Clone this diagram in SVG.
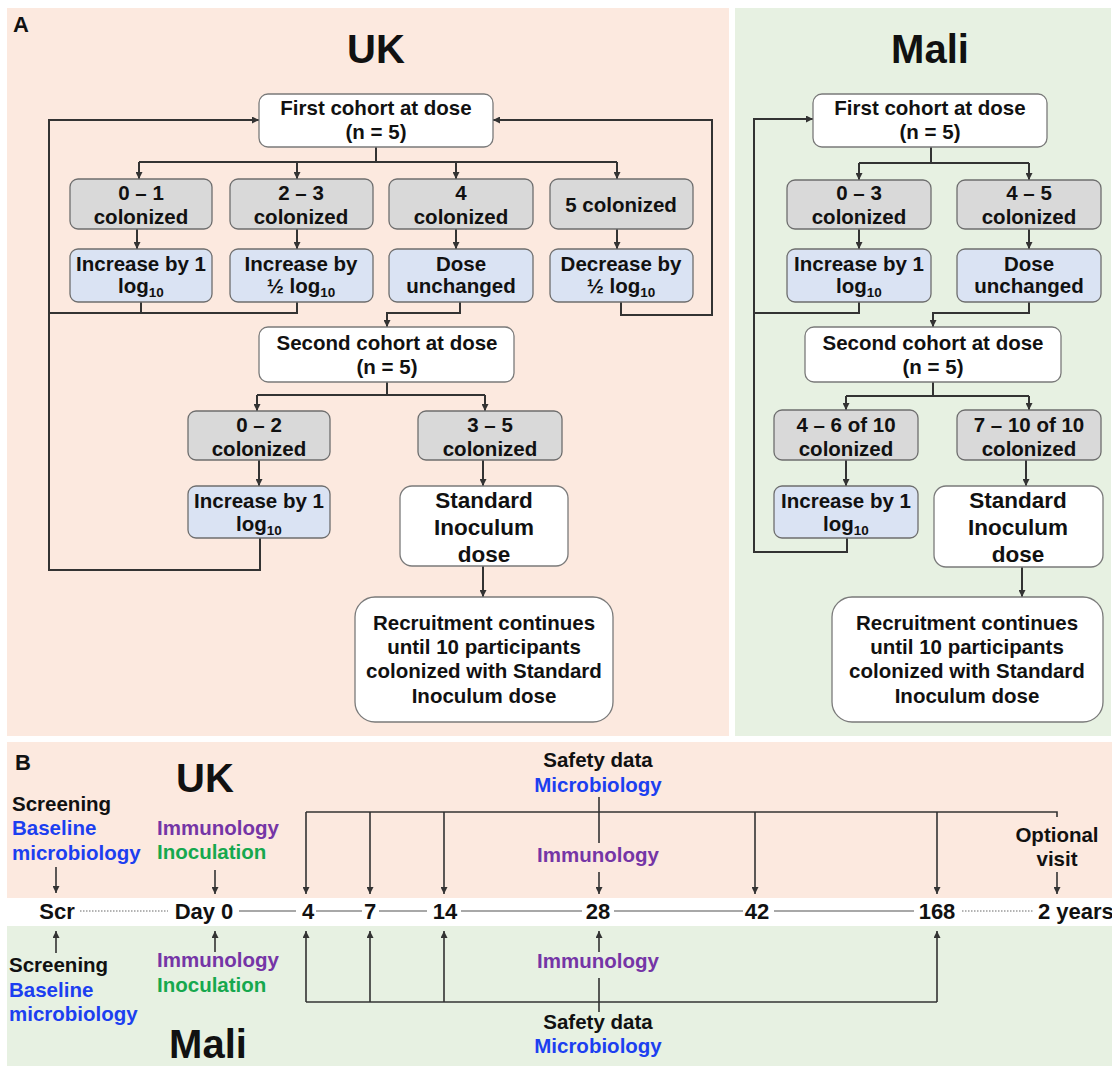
<svg xmlns="http://www.w3.org/2000/svg" width="1112" height="1066" viewBox="0 0 1112 1066">
<style>
.t{font-family:"Liberation Sans",Arial,sans-serif;font-weight:bold;font-size:20.5px;fill:#111;text-anchor:middle}
.s{text-anchor:start}
.title{font-size:40px}
.lab{font-size:22px;text-anchor:start}
.num{font-size:22px}
.std{font-size:22.5px}
.sub{font-size:13.5px}
.blue{fill:#1c3ff0}
.pur{fill:#7535a6}
.grn{fill:#16a84e}
.bw{fill:#fff;stroke:#7a7a7a;stroke-width:1.3}
.bg{fill:#d9d9d9;stroke:#6e6e6e;stroke-width:1.3}
.bb{fill:#dae3f3;stroke:#6e6e6e;stroke-width:1.3}
.ln{fill:none;stroke:#333;stroke-width:2}
.lb{fill:none;stroke:#333;stroke-width:1.6}
.tl{fill:none;stroke:#8c8c8c;stroke-width:1.6}
.dot{fill:none;stroke:#9a9a9a;stroke-width:1.4;stroke-dasharray:1.5 1.5}
</style>
<defs>
<marker id="ah" viewBox="0 0 8 8" refX="8" refY="4" markerWidth="7" markerHeight="7" markerUnits="userSpaceOnUse" orient="auto">
<path d="M0,0 L8,4 L0,8 z" fill="#333"/>
</marker>
</defs>
<rect width="1112" height="1066" fill="#fff"/>
<!-- backgrounds -->
<rect x="7" y="8" width="722" height="728" fill="#fce9df"/>
<rect x="735" y="8" width="376" height="728" fill="#e7f1e2"/>
<rect x="7" y="742" width="1105" height="156" fill="#fce9df"/>
<rect x="7" y="926" width="1105" height="140" fill="#e7f1e2"/>
<text class="t lab" x="13" y="32">A</text>
<text class="t title" x="376" y="63">UK</text>
<text class="t title" x="930" y="63">Mali</text>
<text class="t lab" x="15" y="770">B</text>
<text class="t title" x="205" y="792">UK</text>
<text class="t title" x="208" y="1058">Mali</text>

<!-- connectors -->
<g id="connectors">
<!-- UK panel A -->
<path class="ln" d="M376,147 V162 M139,162 H617"/>
<path class="ln" marker-end="url(#ah)" d="M139,162 V179"/>
<path class="ln" marker-end="url(#ah)" d="M297,162 V179"/>
<path class="ln" marker-end="url(#ah)" d="M456,162 V179"/>
<path class="ln" marker-end="url(#ah)" d="M617,162 V179"/>
<path class="ln" marker-end="url(#ah)" d="M137,229 V249"/>
<path class="ln" marker-end="url(#ah)" d="M297,229 V249"/>
<path class="ln" marker-end="url(#ah)" d="M456,229 V249"/>
<path class="ln" marker-end="url(#ah)" d="M617,229 V249"/>
<path class="ln" d="M141,302 V313 M297,302 V313 H49"/>
<path class="ln" marker-end="url(#ah)" d="M260,538 V570 H49 V120 H259"/>
<path class="ln" marker-end="url(#ah)" d="M621,302 V315 H712 V120 H493"/>
<path class="ln" marker-end="url(#ah)" d="M460,302 V313 H387 V327"/>
<path class="ln" d="M387,382 V395 M257,395 H485"/>
<path class="ln" marker-end="url(#ah)" d="M257,395 V411"/>
<path class="ln" marker-end="url(#ah)" d="M485,395 V411"/>
<path class="ln" marker-end="url(#ah)" d="M259,460 V486"/>
<path class="ln" marker-end="url(#ah)" d="M483,460 V486"/>
<path class="ln" marker-end="url(#ah)" d="M483,566 V597"/>
<!-- Mali panel A -->
<path class="ln" d="M931,147 V163 M859,163 H1029"/>
<path class="ln" marker-end="url(#ah)" d="M859,163 V180"/>
<path class="ln" marker-end="url(#ah)" d="M1029,163 V180"/>
<path class="ln" marker-end="url(#ah)" d="M859,229 V249"/>
<path class="ln" marker-end="url(#ah)" d="M1029,229 V249"/>
<path class="ln" d="M859,302 V313 H754"/>
<path class="ln" marker-end="url(#ah)" d="M847,538 V552 H754 V119 H813"/>
<path class="ln" marker-end="url(#ah)" d="M1029,302 V313 H933 V327"/>
<path class="ln" d="M933,382 V396 M846,396 H1029"/>
<path class="ln" marker-end="url(#ah)" d="M846,396 V410"/>
<path class="ln" marker-end="url(#ah)" d="M1029,396 V410"/>
<path class="ln" marker-end="url(#ah)" d="M846,460 V486"/>
<path class="ln" marker-end="url(#ah)" d="M1026,460 V486"/>
<path class="ln" marker-end="url(#ah)" d="M1022,567 V597"/>
<!-- Panel B timeline -->
<path class="dot" d="M80,911 H168 M962,911 H1034"/>
<path class="tl" d="M239,911 H296 M316,911 H362 M379,911 H427 M461,911 H582 M614,911 H743 M774,911 H914"/>
<!-- UK bracket -->
<path class="lb" d="M306,812 H1057 V817"/>
<path class="lb" marker-end="url(#ah)" d="M306,812 V894"/>
<path class="lb" marker-end="url(#ah)" d="M370,812 V894"/>
<path class="lb" marker-end="url(#ah)" d="M444,812 V894"/>
<path class="lb" marker-end="url(#ah)" d="M755,812 V894"/>
<path class="lb" marker-end="url(#ah)" d="M937,812 V894"/>
<path class="lb" d="M599,797 V843"/>
<path class="lb" marker-end="url(#ah)" d="M599,872 V894"/>
<path class="lb" marker-end="url(#ah)" d="M56,867 V893"/>
<path class="lb" marker-end="url(#ah)" d="M215,870 V894"/>
<path class="lb" marker-end="url(#ah)" d="M1057,872 V894"/>
<!-- Mali bracket -->
<path class="lb" d="M306,1002 H937"/>
<path class="lb" marker-end="url(#ah)" d="M306,1002 V931"/>
<path class="lb" marker-end="url(#ah)" d="M370,1002 V931"/>
<path class="lb" marker-end="url(#ah)" d="M444,1002 V931"/>
<path class="lb" marker-end="url(#ah)" d="M937,1002 V931"/>
<path class="lb" d="M599,978 V1012"/>
<path class="lb" marker-end="url(#ah)" d="M599,952 V931"/>
<path class="lb" marker-end="url(#ah)" d="M56,953 V931"/>
<path class="lb" marker-end="url(#ah)" d="M215,952 V931"/>
</g>

<!-- UK nodes -->
<g id="uk-first"><rect class="bw" x="259" y="94" width="234" height="53" rx="9"/>
<text class="t" x="376" y="115">First cohort at dose</text><text class="t" x="376" y="139">(n = 5)</text></g>
<g id="uk-g01"><rect class="bg" x="70" y="179" width="142" height="50" rx="8"/>
<text class="t" x="141" y="200">0 – 1</text><text class="t" x="141" y="224">colonized</text></g>
<g id="uk-g23"><rect class="bg" x="230" y="179" width="143" height="50" rx="8"/>
<text class="t" x="301" y="200">2 – 3</text><text class="t" x="301" y="224">colonized</text></g>
<g id="uk-g4"><rect class="bg" x="389" y="179" width="144" height="50" rx="8"/>
<text class="t" x="461" y="200">4</text><text class="t" x="461" y="224">colonized</text></g>
<g id="uk-g5"><rect class="bg" x="550" y="179" width="143" height="50" rx="8"/>
<text class="t" x="621" y="212">5 colonized</text></g>
<g id="uk-b1"><rect class="bb" x="70" y="249" width="142" height="53" rx="8"/>
<text class="t" x="141" y="271">Increase by 1</text><text class="t" x="141" y="293">log<tspan class="sub" dy="4">10</tspan></text></g>
<g id="uk-b2"><rect class="bb" x="230" y="249" width="143" height="53" rx="8"/>
<text class="t" x="301" y="271">Increase by</text><text class="t" x="301" y="293">½ log<tspan class="sub" dy="4">10</tspan></text></g>
<g id="uk-b3"><rect class="bb" x="389" y="249" width="144" height="53" rx="8"/>
<text class="t" x="461" y="271">Dose</text><text class="t" x="461" y="293">unchanged</text></g>
<g id="uk-b4"><rect class="bb" x="550" y="249" width="143" height="53" rx="8"/>
<text class="t" x="621" y="271">Decrease by</text><text class="t" x="621" y="293">½ log<tspan class="sub" dy="4">10</tspan></text></g>
<g id="uk-second"><rect class="bw" x="259" y="327" width="255" height="55" rx="9"/>
<text class="t" x="387" y="350">Second cohort at dose</text><text class="t" x="387" y="374">(n = 5)</text></g>
<g id="uk-g02"><rect class="bg" x="188" y="411" width="142" height="49" rx="8"/>
<text class="t" x="259" y="432">0 – 2</text><text class="t" x="259" y="456">colonized</text></g>
<g id="uk-g35"><rect class="bg" x="418" y="411" width="144" height="49" rx="8"/>
<text class="t" x="490" y="432">3 – 5</text><text class="t" x="490" y="456">colonized</text></g>
<g id="uk-b5"><rect class="bb" x="188" y="486" width="142" height="52" rx="8"/>
<text class="t" x="259" y="508">Increase by 1</text><text class="t" x="259" y="531">log<tspan class="sub" dy="4">10</tspan></text></g>
<g id="uk-std"><rect class="bw" x="400" y="486" width="168" height="80" rx="12"/>
<text class="t std" x="484" y="508">Standard</text><text class="t std" x="484" y="535">Inoculum</text><text class="t std" x="484" y="562">dose</text></g>
<g id="uk-rec"><rect class="bw" x="355" y="597" width="258" height="125" rx="20"/>
<text class="t" x="484" y="630">Recruitment continues</text><text class="t" x="484" y="654">until 10 participants</text>
<text class="t" x="484" y="678">colonized with Standard</text><text class="t" x="484" y="703">Inoculum dose</text></g>

<!-- Mali nodes -->
<g id="ml-first"><rect class="bw" x="813" y="94" width="234" height="53" rx="9"/>
<text class="t" x="930" y="115">First cohort at dose</text><text class="t" x="930" y="139">(n = 5)</text></g>
<g id="ml-g03"><rect class="bg" x="787" y="180" width="144" height="49" rx="8"/>
<text class="t" x="859" y="200">0 – 3</text><text class="t" x="859" y="224">colonized</text></g>
<g id="ml-g45"><rect class="bg" x="957" y="180" width="144" height="49" rx="8"/>
<text class="t" x="1029" y="200">4 – 5</text><text class="t" x="1029" y="224">colonized</text></g>
<g id="ml-b1"><rect class="bb" x="787" y="249" width="144" height="53" rx="8"/>
<text class="t" x="859" y="271">Increase by 1</text><text class="t" x="859" y="293">log<tspan class="sub" dy="4">10</tspan></text></g>
<g id="ml-b2"><rect class="bb" x="957" y="249" width="144" height="53" rx="8"/>
<text class="t" x="1029" y="271">Dose</text><text class="t" x="1029" y="293">unchanged</text></g>
<g id="ml-second"><rect class="bw" x="805" y="327" width="256" height="55" rx="9"/>
<text class="t" x="933" y="350">Second cohort at dose</text><text class="t" x="933" y="374">(n = 5)</text></g>
<g id="ml-g46"><rect class="bg" x="774" y="410" width="144" height="50" rx="8"/>
<text class="t" x="846" y="432">4 – 6 of 10</text><text class="t" x="846" y="456">colonized</text></g>
<g id="ml-g710"><rect class="bg" x="957" y="410" width="144" height="50" rx="8"/>
<text class="t" x="1029" y="432">7 – 10 of 10</text><text class="t" x="1029" y="456">colonized</text></g>
<g id="ml-b3"><rect class="bb" x="774" y="486" width="144" height="52" rx="8"/>
<text class="t" x="846" y="508">Increase by 1</text><text class="t" x="846" y="531">log<tspan class="sub" dy="4">10</tspan></text></g>
<g id="ml-std"><rect class="bw" x="934" y="486" width="169" height="81" rx="12"/>
<text class="t std" x="1018" y="508">Standard</text><text class="t std" x="1018" y="535">Inoculum</text><text class="t std" x="1018" y="562">dose</text></g>
<g id="ml-rec"><rect class="bw" x="832" y="597" width="271" height="125" rx="20"/>
<text class="t" x="967" y="630">Recruitment continues</text><text class="t" x="967" y="654">until 10 participants</text>
<text class="t" x="967" y="678">colonized with Standard</text><text class="t" x="967" y="703">Inoculum dose</text></g>

<!-- Panel B -->
<g id="b-uk-scr"><text class="t s" x="12" y="811">Screening</text><text class="t s blue" x="12" y="835">Baseline</text><text class="t s blue" x="12" y="860">microbiology</text></g>
<g id="b-uk-day0"><text class="t s pur" x="157" y="835">Immunology</text><text class="t s grn" x="157" y="859">Inoculation</text></g>
<g id="b-uk-28"><text class="t" x="598" y="767">Safety data</text><text class="t blue" x="598" y="792">Microbiology</text><text class="t pur" x="598" y="862">Immunology</text></g>
<g id="b-uk-opt"><text class="t" x="1057" y="842">Optional</text><text class="t" x="1057" y="866">visit</text></g>
<g id="b-timeline">
<text class="t num" x="57" y="919">Scr</text>
<text class="t num" x="204" y="919">Day 0</text>
<text class="t num" x="308" y="919">4</text>
<text class="t num" x="370" y="919">7</text>
<text class="t num" x="445" y="919">14</text>
<text class="t num" x="598" y="919">28</text>
<text class="t num" x="757" y="919">42</text>
<text class="t num" x="937" y="919">168</text>
<text class="t num s" x="1038" y="919">2 years</text>
</g>
<g id="b-ml-scr"><text class="t s" x="9" y="972">Screening</text><text class="t s blue" x="9" y="997">Baseline</text><text class="t s blue" x="9" y="1021">microbiology</text></g>
<g id="b-ml-day0"><text class="t s pur" x="157" y="967">Immunology</text><text class="t s grn" x="157" y="992">Inoculation</text></g>
<g id="b-ml-28"><text class="t pur" x="598" y="968">Immunology</text><text class="t" x="598" y="1029">Safety data</text><text class="t blue" x="598" y="1053">Microbiology</text></g>
</svg>
